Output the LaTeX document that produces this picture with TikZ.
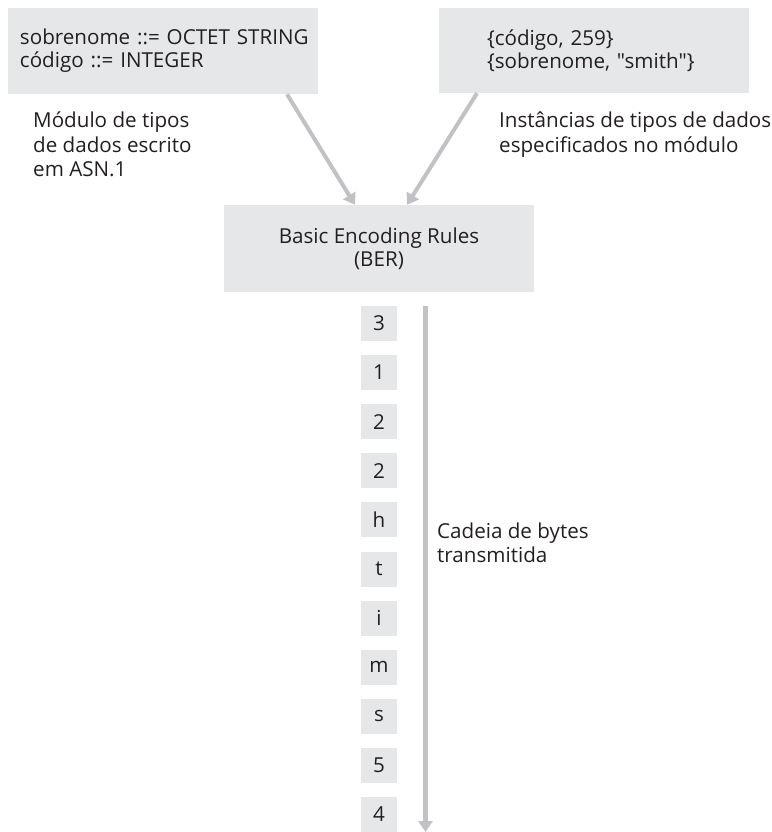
\documentclass[tikz,border=0pt]{standalone}
\usepackage{fontspec}
\newfontfamily\diagfont{Open Sans}
\usetikzlibrary{arrows.meta}
\definecolor{boxfill}{HTML}{E6E7E8}
\definecolor{arrowgray}{HTML}{C1C2C5}
\definecolor{ink}{HTML}{231F20}
\tikzset{
  bigbox/.style={fill=boxfill, minimum width=310pt, inner sep=0pt, text=ink},
  bytebox/.style={fill=boxfill, minimum width=36pt, minimum height=35pt, inner sep=0pt, text=ink},
  lbl/.style={anchor=base west, inner sep=0pt, text=ink},
  flow/.style={draw=arrowgray, line width=4pt, -{Triangle[width=14pt,length=11pt]}},
}
\begin{document}
\begin{tikzpicture}[x=1pt,y=-1pt, font=\diagfont\fontsize{20.6}{23}\selectfont]
\useasboundingbox (0,0) rectangle (771,832);
% big boxes
\node[bigbox, minimum height=86pt, text width=310pt, align=left] (L) at (163,51)
  {\hspace*{12pt}sobrenome ::= OCTET STRING\\\hspace*{12pt}código ::= INTEGER};
\node[bigbox, minimum height=85pt, text width=310pt, align=left] (R) at (594,50.5)
  {\hspace*{48pt}\{código, 259\}\\\hspace*{48pt}\{sobrenome, "smith"\}};
\node[bigbox, minimum height=87pt, align=center] (B) at (379,248.5) {Basic Encoding Rules\\(BER)};
% labels, one node per line, anchored at the baseline
\node[lbl] (ml1) at (33,128) {Módulo de tipos};
\node[lbl] (ml2) at (33,152) {de dados escrito};
\node[lbl] (ml3) at (33,176) {em ASN.1};
\node[lbl] (il1) at (499,128) {Instâncias de tipos de dados};
\node[lbl] (il2) at (499,152) {especificados no módulo};
\node[lbl] (cl1) at (437,538) {Cadeia de bytes};
\node[lbl] (cl2) at (437,562) {transmitida};
% byte boxes
\foreach \t [count=\i from 0] in {3,1,2,2,h,t,i,m,s,5,4} {
  \node[bytebox] (b\i) at (379,{323.5+49.1*\i}) {\t};
}
% arrows
\draw[flow] ([xshift=124pt]L.south) -- ([xshift=-24pt]B.north);
\draw[flow] ([xshift=-117pt]R.south) -- ([xshift=28pt]B.north);
\coordinate (sEnd) at (425.5,832);
\draw[flow, line width=4.5pt] (b0.north -| sEnd) -- (sEnd);
\end{tikzpicture}
\end{document}
